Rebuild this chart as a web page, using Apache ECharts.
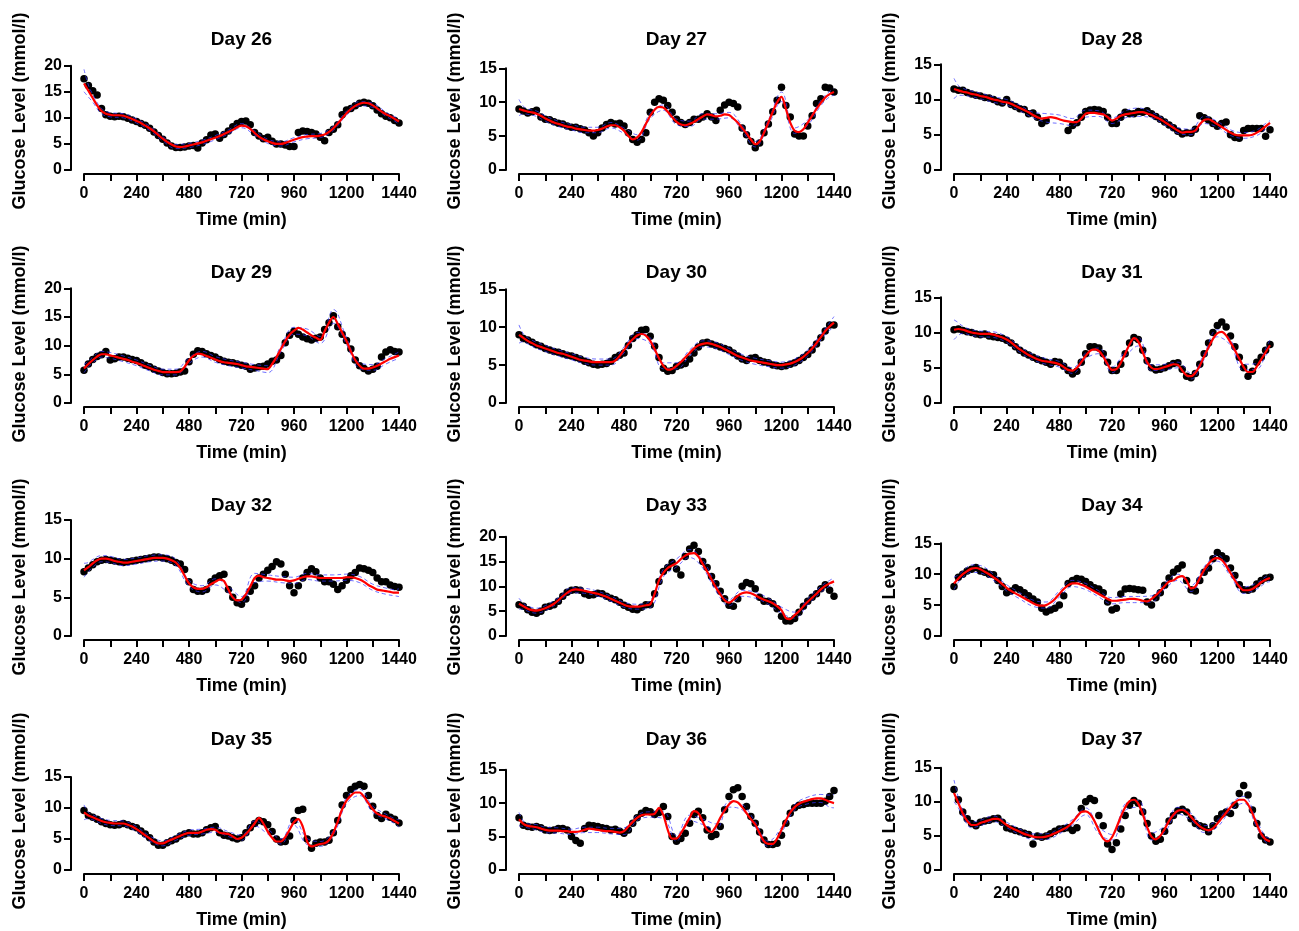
<!DOCTYPE html>
<html><head><meta charset="utf-8">
<script src="https://cdn.jsdelivr.net/npm/echarts@6/dist/echarts.min.js"></script>
<style>html,body{margin:0;padding:0;background:#fff}#c{width:1299px;height:931px}</style>
</head><body><div id="c"></div>
<script>
// ---------- data ----------
const days = ['Day 26','Day 27','Day 28','Day 29','Day 30','Day 31','Day 32','Day 33','Day 34','Day 35','Day 36','Day 37'];
const yMax = [20,15,15,20,15,15,15,20,15,15,15,15];
const stepMin = 20; // minutes between listed readings (obs and fit)
const ciTimes = [0,20,40,80,120,180,240,300,360,420,480,540,600,660,720,780,840,900,960,1020,1080,1140,1200,1260,1320,1380,1420,1440];

const obs26 = [17.5,16.2,15.2,14.4,11.8,10.6,10.3,10.2,10.3,10.2, 9.9,9.6,9.3,8.9,8.6,8.0,7.3,6.6,5.9,5.2, 4.6,4.3,4.3,4.4,4.6,4.7,4.2,5.2,5.8,6.7, 6.9,6.1,6.8,7.5,8.3,8.9,9.3,9.4,8.7,7.2, 6.5,6.0,6.3,5.5,5.0,5.0,4.8,4.5,4.5,7.2, 7.5,7.4,7.2,6.9,6.3,5.6,7.2,7.8,8.7,10.6, 11.5,11.8,12.3,12.8,13.0,12.8,12.3,11.5,10.8,10.3, 10.0,9.5,9.0];
const fit26 = [16.6,15.2,13.8,12.4,11.3,10.8,10.6,10.5,10.5,10.4, 10.1,9.8,9.4,9.0,8.5,8.0,7.4,6.7,6.0,5.4, 4.9,4.5,4.4,4.5,4.7,4.9,5.1,5.3,5.6,5.9, 6.2,6.5,6.9,7.3,7.7,8.2,8.5,8.4,7.9,7.1, 6.4,5.9,5.5,5.2,5.0,5.0,5.2,5.5,5.8,6.1, 6.3,6.4,6.5,6.5,6.6,6.8,7.3,8.0,8.9,9.9, 10.9,11.7,12.3,12.7,12.9,12.8,12.4,11.8,11.2,10.7, 10.3,9.8,9.3];
const up26 = [19.3,16.3,14.5,11.8,11.0,10.8,9.8,8.4,6.4,4.9,5.1,5.7,6.6,7.7,8.9,7.5,5.9,5.4,6.2,6.8,7.0,8.4,11.3,13.1,12.8,11.1,10.2,9.9];
const lo26 = [15.0,14.0,13.0,10.8,10.2,10.0,9.0,7.6,5.6,4.1,4.3,4.9,5.8,6.9,8.1,6.7,5.1,4.6,5.4,6.0,6.2,7.6,10.5,12.3,12.0,10.3,9.4,8.8];

const obs27 = [9.0,8.7,8.4,8.6,8.8,7.8,7.5,7.4,7.1,6.9, 6.8,6.5,6.3,6.3,6.1,5.9,5.5,5.0,5.5,6.2, 6.7,7.0,6.8,6.9,6.5,5.5,4.5,4.1,4.5,5.5, 8.5,10.0,10.5,10.3,9.5,8.5,7.5,7.0,6.7,7.0, 7.5,7.5,7.8,8.3,7.8,7.3,8.8,9.6,10.0,9.8, 9.3,6.2,5.2,4.2,3.3,4.0,5.5,6.8,8.6,10.3, 12.2,9.5,7.8,5.3,5.0,5.0,6.5,8.0,9.8,10.5, 12.2,12.1,11.5];
const fit27 = [9.0,8.8,8.6,8.5,8.3,8.0,7.6,7.3,7.0,6.8, 6.6,6.4,6.3,6.1,6.0,5.9,5.8,5.8,5.9,6.1, 6.4,6.6,6.6,6.3,5.8,5.0,4.5,4.8,5.6,6.8, 8.0,8.9,9.3,9.2,8.6,7.8,7.1,6.7,6.6,6.8, 7.1,7.5,7.9,8.2,8.1,7.9,8.0,8.2,8.1,7.6, 7.0,6.2,5.4,4.5,3.8,4.2,5.5,7.0,8.6,10.0, 10.8,9.0,7.0,5.8,5.6,6.0,7.0,8.0,9.0,9.9, 10.7,11.2,11.5];
const up27 = [10.4,9.4,9.0,8.7,8.0,7.2,6.7,6.3,6.3,7.0,6.2,5.2,8.4,9.6,7.5,7.2,8.3,8.3,8.5,6.6,4.2,7.4,11.5,6.2,7.4,10.3,11.6,12.0];
const lo27 = [8.0,8.3,8.2,7.9,7.2,6.4,5.9,5.5,5.5,6.2,5.4,4.4,7.6,8.8,6.7,6.4,7.5,7.5,7.7,5.8,3.4,6.6,10.1,5.4,6.6,9.5,10.8,11.0];

const obs28 = [11.5,11.3,11.3,11.0,10.8,10.6,10.5,10.3,10.2,10.0, 9.7,9.5,10.0,9.3,9.0,8.7,8.6,8.0,8.1,7.5, 6.6,7.0,null,null,null,null,5.6,6.3,6.7,7.5, 8.3,8.5,8.6,8.5,8.3,7.5,6.6,6.6,7.5,8.2, 8.0,8.0,8.3,8.2,8.4,8.0,7.6,7.2,6.8,6.4, 6.0,5.5,5.1,5.3,5.2,5.8,7.7,7.4,7.1,6.6, 6.2,6.6,6.8,5.0,4.6,4.5,5.6,5.9,5.9,5.9, 5.9,4.8,5.7];
const fit28 = [11.5,11.3,11.1,11.0,10.8,10.7,10.5,10.4,10.2,10.0, 9.9,9.7,9.6,9.4,9.1,8.8,8.5,8.2,7.8,7.5, 7.3,7.4,7.5,7.4,7.2,7.0,6.9,6.8,6.8,7.3, 8.0,8.1,8.1,8.0,7.9,7.5,7.0,7.3,7.7,7.9, 8.0,8.1,8.2,8.2,8.0,7.8,7.5,7.2,6.8,6.4, 6.0,5.6,5.3,5.4,5.4,5.6,6.5,7.1,7.2,6.9, 6.5,6.1,5.7,5.3,5.0,4.9,4.9,4.9,5.0,5.3, 5.7,6.2,6.7];
const up28 = [13.0,12.0,11.6,11.2,10.9,10.4,10.0,9.2,8.2,8.0,7.8,7.3,8.5,8.4,7.4,8.4,8.8,8.2,7.2,6.0,5.8,7.6,6.9,5.7,5.3,5.7,6.6,7.0];
const lo28 = [10.1,10.6,10.6,10.4,10.1,9.6,9.2,8.4,7.4,6.8,6.6,6.3,7.5,7.6,6.6,7.4,7.6,7.4,6.4,5.2,5.0,6.6,6.1,4.9,4.5,4.9,5.8,6.3];

const obs29 = [5.7,6.8,7.6,8.1,8.4,9.0,7.5,7.7,8.0,8.0, 7.8,7.6,7.4,7.0,6.6,6.3,5.9,5.6,5.3,5.1, 5.1,5.2,5.4,5.6,7.2,8.5,9.1,9.0,8.6,8.3, 8.0,7.6,7.3,7.1,7.0,6.8,6.6,6.4,5.9,6.1, 6.3,6.4,6.8,7.3,7.5,8.3,10.5,11.8,12.5,12.0, 11.5,11.2,11.0,11.3,11.5,12.8,14.0,15.2,13.3,12.0, 10.9,9.4,7.5,6.5,6.0,5.6,5.9,6.4,8.0,8.9, 9.3,9.0,8.9];
const fit29 = [6.0,6.8,7.5,8.1,8.5,8.5,8.3,8.1,7.9,7.7, 7.5,7.2,7.0,6.7,6.4,6.1,5.8,5.6,5.4,5.4, 5.4,5.4,5.5,6.3,7.4,8.2,8.6,8.5,8.2,7.9, 7.6,7.3,7.1,7.0,6.9,6.8,6.6,6.4,6.3,6.2, 6.1,6.0,5.9,6.8,8.0,9.4,10.8,11.9,12.6,13.1, 12.8,12.3,11.8,11.4,11.0,12.5,14.0,15.0,13.8,12.3, 10.8,9.0,7.5,6.5,6.0,6.0,6.2,6.5,6.9,7.3, 7.7,8.0,8.3];
const up29 = [6.7,7.3,8.0,9.0,8.8,8.2,7.5,6.6,5.9,5.9,7.9,9.0,8.1,7.5,7.1,6.7,6.5,9.9,13.2,12.9,11.6,16.3,11.4,7.0,6.7,7.8,8.5,8.9];
const lo29 = [5.3,6.3,7.0,8.0,7.8,7.2,6.5,5.6,4.9,4.9,6.9,8.0,7.1,6.5,6.1,5.7,5.3,8.9,12.0,11.7,10.4,13.9,10.2,6.0,5.7,6.8,7.5,7.7];

const obs30 = [9.0,8.5,8.3,8.0,7.7,7.5,7.2,7.0,6.8,6.7, 6.5,6.3,6.2,6.0,5.8,5.5,5.3,5.1,5.0,5.1, 5.2,5.5,6.0,6.3,6.6,7.6,8.5,9.0,9.6,9.7, 8.8,7.5,6.0,4.6,4.2,4.3,4.8,5.0,5.2,5.8, 6.6,7.4,7.9,8.0,7.8,7.6,7.4,7.2,7.0,6.6, 6.2,5.8,5.6,5.9,6.0,5.6,5.4,5.3,5.0,4.9, 4.8,4.9,5.1,5.3,5.6,6.0,6.4,7.0,7.8,8.6, 9.5,10.3,10.3];
const fit30 = [9.0,8.6,8.2,7.9,7.6,7.4,7.2,7.0,6.8,6.6, 6.5,6.3,6.1,5.9,5.7,5.6,5.5,5.4,5.4,5.4, 5.4,5.4,5.6,6.2,7.0,7.8,8.4,8.9,9.1,8.9, 8.2,7.1,5.9,4.9,4.4,4.5,4.9,5.4,6.0,6.6, 7.2,7.6,7.8,7.9,7.8,7.6,7.4,7.1,6.8,6.5, 6.2,6.0,5.8,5.6,5.5,5.4,5.3,5.2,5.1,5.0, 5.0,5.1,5.2,5.4,5.7,6.1,6.6,7.2,7.9,8.7, 9.5,10.1,10.6];
const up30 = [10.3,9.1,8.6,8.0,7.6,7.0,6.5,6.0,5.8,5.8,7.4,9.3,8.6,5.3,5.3,7.0,8.2,8.0,7.2,6.4,5.9,5.6,5.4,5.8,7.0,9.1,10.6,11.4];
const lo30 = [7.9,8.1,7.8,7.2,6.8,6.2,5.7,5.2,5.0,5.0,6.6,8.5,7.8,4.5,4.5,6.2,7.4,7.2,6.4,5.6,5.1,4.8,4.6,5.0,6.2,8.3,9.6,9.9];

const obs31 = [10.4,10.5,10.3,10.1,10.0,9.8,9.7,9.8,9.5,9.4, 9.3,9.2,8.9,8.5,8.0,7.5,7.1,6.8,6.5,6.2, 6.0,5.8,5.5,5.9,5.8,5.2,4.6,4.1,4.5,5.8, 7.0,8.0,8.0,7.8,7.0,5.8,4.6,4.6,5.5,7.0, 8.5,9.3,9.0,7.5,6.0,5.0,4.7,4.8,5.0,5.3, 5.6,5.7,4.8,3.8,3.6,4.2,5.5,7.0,8.5,10.0, 11.0,11.5,10.8,9.5,8.0,6.5,5.0,3.8,4.5,5.8, 6.5,7.5,8.3];
const fit31 = [10.4,10.5,10.4,10.2,10.0,9.9,9.8,9.8,9.8,9.7, 9.5,9.3,9.0,8.6,8.1,7.6,7.2,6.8,6.5,6.2, 6.0,5.9,5.8,5.7,5.5,5.1,4.7,4.6,5.0,5.8, 6.7,7.4,7.6,7.4,6.6,5.5,4.7,4.8,5.7,7.0, 8.3,9.2,8.7,7.2,5.8,5.0,4.8,4.9,5.1,5.3, 5.5,5.4,4.6,3.9,3.8,4.3,5.3,6.6,7.9,9.1, 9.9,10.1,9.6,8.6,7.5,6.3,5.1,4.4,4.4,5.2, 6.2,7.2,8.2];
const up31 = [11.8,11.4,10.9,10.4,10.2,10.1,9.4,8.0,6.9,6.3,5.9,5.0,7.1,7.8,5.1,7.4,9.3,5.4,5.5,5.8,4.2,7.0,10.4,9.0,5.5,5.6,7.7,9.0];
const lo31 = [9.0,9.6,9.9,9.6,9.4,9.3,8.6,7.2,6.1,5.5,5.1,4.2,6.3,7.0,4.3,6.6,8.1,4.6,4.7,5.0,3.4,6.2,9.4,8.2,4.7,4.8,6.7,7.4];

const obs32 = [8.3,8.8,9.2,9.6,9.8,9.9,9.8,9.7,9.6,9.5, 9.6,9.7,9.8,9.9,10.0,10.1,10.2,10.2,10.1,10.0, 9.8,9.5,9.3,8.6,7.0,6.0,5.8,5.8,6.0,7.0, 7.5,7.8,8.0,6.0,5.0,4.3,4.1,4.8,5.8,6.5, 7.5,8.0,8.5,9.0,9.6,9.3,8.0,6.5,5.6,6.5, 7.5,8.2,8.7,8.3,7.5,7.0,7.0,6.7,6.0,6.5, 7.2,7.8,8.2,8.8,8.7,8.5,8.2,7.5,7.0,7.0, 6.6,6.4,6.3];
const fit32 = [8.5,8.9,9.4,9.8,10.0,10.0,9.9,9.7,9.6,9.5, 9.5,9.6,9.7,9.8,9.9,10.0,10.1,10.1,10.1,10.0, 9.8,9.5,8.8,7.8,6.8,6.3,6.1,6.1,6.3,6.7, 7.0,7.3,7.1,6.0,5.0,4.6,4.7,5.4,6.4,7.5, 7.8,7.6,7.5,7.4,7.3,7.3,7.2,7.1,7.2,7.4, 7.6,7.7,7.7,7.6,7.5,7.5,7.5,7.5,7.5,7.5, 7.6,7.6,7.5,7.3,7.0,6.6,6.3,6.0,5.9,5.8, 5.7,5.6,5.6];
const up32 = [9.4,9.5,9.9,10.4,10.3,9.9,10.1,10.4,10.5,9.9,7.2,6.5,7.4,6.4,5.1,8.1,7.9,7.7,7.6,8.1,7.9,7.9,8.0,7.7,6.7,6.2,6.0,6.1];
const lo32 = [7.6,8.3,8.9,9.6,9.5,9.1,9.3,9.6,9.7,9.1,6.4,5.7,6.6,5.6,4.3,6.9,7.1,6.9,6.8,7.3,7.1,7.1,7.2,6.9,5.9,5.4,5.2,5.1];

const obs33 = [6.3,6.0,5.3,4.8,4.6,5.0,5.8,6.0,6.3,7.0, 8.0,8.8,9.2,9.3,9.2,8.5,8.2,8.3,8.6,8.5, 8.0,7.6,7.3,6.8,6.2,5.8,5.4,5.3,5.8,6.3, 6.3,8.5,11.0,13.0,13.8,14.8,13.5,12.3,16.0,17.5, 18.3,17.0,15.0,13.8,12.0,10.5,9.0,7.5,6.2,6.0, 7.5,10.0,10.8,10.5,9.5,7.8,7.0,7.0,6.5,5.5, 4.0,3.0,3.0,3.5,4.8,6.0,7.0,7.8,8.5,9.5, 10.3,9.2,8.0];
const fit33 = [6.5,6.0,5.5,5.2,5.1,5.3,5.6,6.0,6.5,7.2, 8.0,8.7,9.2,9.4,9.3,9.1,8.9,8.7,8.5,8.2, 7.9,7.5,7.1,6.7,6.3,6.0,5.9,5.9,6.0,6.2, 6.4,8.5,11.2,12.7,13.7,14.2,14.7,15.5,16.2,16.6, 16.7,16.0,14.5,13.0,11.4,9.8,8.4,7.2,6.7,7.3, 8.1,8.6,8.8,8.6,8.2,7.7,7.3,7.0,6.6,6.0, 5.2,3.6,3.4,4.2,5.0,6.0,6.9,7.7,8.5,9.4, 10.1,10.6,11.0];
const up33 = [7.6,6.6,6.0,5.6,6.1,7.7,9.7,9.6,9.0,8.0,6.8,6.4,7.1,13.5,15.5,17.4,15.3,10.5,7.3,9.2,8.8,7.6,5.8,4.8,7.5,10.0,11.2,11.7];
const lo33 = [5.4,5.4,5.0,4.6,5.1,6.7,8.7,8.6,8.0,7.0,5.8,5.4,5.7,11.9,13.9,15.8,13.7,9.1,6.1,8.0,7.6,6.4,4.6,3.6,6.3,8.8,10.0,10.3];

const obs34 = [8.0,9.5,10.0,10.5,10.8,11.1,10.5,10.3,10.0,9.9, 9.0,8.0,7.0,7.3,7.8,7.5,7.0,6.5,6.0,5.5, 4.5,3.9,4.2,4.5,5.0,6.5,8.5,9.0,9.3,9.2, 8.8,8.3,7.8,7.6,7.0,5.5,4.2,4.5,6.8,7.6, 7.7,7.6,7.5,7.4,5.5,5.0,6.2,7.0,8.2,9.4, 10.3,10.9,11.5,9.0,7.5,7.3,9.0,10.3,11.0,12.5, 13.5,13.0,12.5,11.0,9.8,8.3,7.5,7.4,7.6,8.4, 9.0,9.4,9.5];
const fit34 = [8.5,9.3,10.0,10.5,10.9,11.0,10.8,10.4,10.0,9.5, 9.0,8.4,7.8,7.3,6.9,6.5,6.1,5.7,5.3,5.0, 4.9,5.0,5.4,6.0,6.8,7.6,8.2,8.5,8.5,8.3, 8.0,7.6,7.2,6.8,6.4,6.0,5.7,5.7,5.8,5.9, 6.0,6.0,5.9,5.7,5.6,6.0,6.6,7.3,8.1,8.8, 9.0,9.5,9.7,9.0,7.7,8.0,9.4,10.7,11.7,12.4, 12.6,12.3,11.4,10.2,9.0,8.0,7.4,7.4,7.6,8.1, 8.7,9.1,9.4];
const up34 = [9.5,9.9,10.5,11.5,11.4,10.0,8.3,7.0,5.8,5.5,7.3,9.0,8.5,7.3,6.2,6.4,6.4,6.5,8.6,10.0,8.2,11.2,13.1,10.7,7.9,8.6,9.6,10.0];
const lo34 = [7.5,8.7,9.5,10.3,10.2,9.0,7.3,6.0,4.8,4.5,6.3,8.0,7.5,6.3,5.2,5.4,5.4,5.5,7.6,9.0,7.2,10.2,12.1,9.7,6.9,7.6,8.6,8.8];

const obs35 = [9.6,8.8,8.5,8.2,7.8,7.5,7.3,7.2,7.3,7.5, 7.3,7.0,6.8,6.3,5.8,5.2,4.5,4.0,4.0,4.4, 4.7,5.0,5.5,5.8,6.0,5.8,5.8,6.0,6.5,6.8, 7.0,6.0,5.6,5.5,5.2,5.0,5.2,6.0,6.8,7.5, 8.0,7.8,7.3,6.2,5.0,4.5,4.6,5.5,8.0,9.6, 9.8,5.0,3.5,4.3,4.5,4.5,4.8,6.0,8.0,10.5, 12.0,13.0,13.5,13.8,13.5,12.0,10.3,8.8,8.3,9.0, 8.5,8.2,7.6];
const fit35 = [9.3,8.8,8.5,8.2,7.9,7.7,7.6,7.5,7.5,7.5, 7.3,7.0,6.6,6.1,5.6,5.1,4.6,4.3,4.3,4.6, 4.9,5.2,5.5,5.8,6.0,6.0,6.0,6.2,6.5,6.6, 6.5,6.0,5.9,5.8,5.4,5.0,5.2,5.8,6.6,7.5, 8.4,7.5,6.2,5.2,4.6,4.6,5.3,6.5,7.7,8.2, 7.0,4.6,3.8,4.0,4.2,4.3,4.8,6.0,7.8,9.8, 11.2,12.0,12.5,12.5,11.8,10.8,9.8,9.1,8.8,8.6, 8.3,7.9,7.5];
const up35 = [10.5,9.3,8.9,8.3,8.0,7.9,7.0,5.5,4.7,5.6,6.4,6.6,6.9,6.2,5.6,7.9,6.6,5.0,8.2,5.1,4.6,6.4,11.7,13.0,10.3,9.0,8.3,8.1];
const lo35 = [8.1,8.3,8.1,7.5,7.2,7.1,6.2,4.7,3.9,4.8,5.6,5.8,6.1,5.4,4.8,7.1,5.8,4.2,7.2,4.1,3.8,5.6,10.7,12.0,9.3,8.2,7.5,6.9];

const obs36 = [7.8,6.7,6.5,6.4,6.5,6.3,6.0,5.9,6.0,6.2, 6.2,6.0,5.0,4.4,4.0,6.2,6.7,6.6,6.5,6.3, 6.2,6.0,6.1,5.8,5.5,6.0,7.0,7.8,8.5,8.9, 8.7,8.3,8.6,9.5,8.0,5.0,4.3,4.7,5.5,7.0, 8.3,8.8,7.8,6.0,5.0,5.3,6.5,9.0,11.0,12.0, 12.3,11.0,9.5,8.0,7.0,5.7,4.5,3.8,3.8,4.0, 5.2,7.0,8.5,9.3,9.7,9.8,10.0,10.0,10.0,10.0, 10.3,11.0,11.9];
const fit36 = [7.6,6.9,6.6,6.5,6.4,6.2,6.0,5.9,5.9,5.9, 5.8,5.8,5.7,5.7,5.8,6.0,6.2,6.1,6.0,5.9, 5.8,5.8,5.7,5.6,5.8,6.5,7.2,7.8,8.2,8.3, 8.3,8.4,9.3,8.2,6.0,4.7,4.7,5.5,6.6,7.8, 8.8,8.5,7.2,6.0,5.7,6.5,7.8,8.9,9.8,10.3, 10.1,9.4,8.5,7.6,6.8,5.5,4.3,3.9,3.9,4.7, 6.0,7.4,8.6,9.4,9.9,10.2,10.4,10.6,10.7,10.7, 10.5,10.2,10.0];
const up36 = [8.6,7.3,6.9,6.8,6.4,6.3,6.1,6.4,6.4,6.2,6.3,8.2,8.7,8.7,5.1,8.2,7.6,6.9,10.2,9.8,7.2,4.3,6.4,9.8,10.9,11.3,11.2,11.3];
const lo36 = [6.6,6.5,6.3,6.0,5.6,5.5,5.3,5.6,5.6,5.4,5.3,7.4,7.9,7.7,4.3,7.4,6.8,6.1,9.4,9.0,6.4,3.5,5.6,9.0,9.9,10.1,9.4,9.3];

const obs37 = [11.8,10.3,8.5,7.5,6.8,6.5,7.0,7.2,7.3,7.5, 7.6,7.0,6.2,6.0,5.8,5.6,5.4,5.2,3.8,5.0, 4.8,5.0,5.3,5.7,6.0,6.1,6.2,5.8,6.2,9.0, 10.0,10.5,10.2,8.0,6.5,3.8,3.0,4.0,6.0,8.0, 9.5,10.2,9.8,8.5,6.8,5.0,4.2,4.5,5.7,7.2, 8.0,8.7,8.9,8.5,7.5,6.8,6.5,6.3,5.6,6.5, 7.5,8.2,8.5,8.3,9.5,11.2,12.4,11.0,8.8,6.8, 5.0,4.4,4.1];
const fit37 = [11.3,9.8,8.3,7.2,6.6,6.6,6.9,7.1,7.3,7.5, 7.5,7.1,6.6,6.2,5.9,5.6,5.3,5.1,4.9,4.8, 4.8,4.9,5.1,5.4,5.7,6.0,6.4,7.0,7.8,8.5, 8.6,8.2,7.2,5.8,4.6,4.2,4.8,6.2,7.8,9.2, 10.1,10.3,9.7,8.2,6.3,4.9,4.5,5.0,6.0,7.2, 8.1,8.7,8.8,8.5,7.8,7.0,6.4,6.0,5.8,6.1, 6.8,7.6,8.4,9.2,9.9,10.3,10.3,9.6,8.3,6.7, 5.3,4.5,4.2];
const up37 = [13.2,10.6,8.8,7.0,7.3,7.9,7.0,6.0,5.3,5.3,6.1,7.4,9.1,6.3,5.2,9.7,10.2,5.4,6.5,9.2,8.3,6.5,7.3,9.7,10.8,7.2,4.9,4.7];
const lo37 = [10.0,9.1,7.8,6.2,6.5,7.1,6.2,5.2,4.5,4.5,5.3,6.6,8.1,5.3,4.4,8.7,9.2,4.4,5.5,8.2,7.3,5.5,6.3,8.7,9.8,6.2,4.1,3.8];

const obsAll = [obs26,obs27,obs28,obs29,obs30,obs31,obs32,obs33,obs34,obs35,obs36,obs37];
const fitAll = [fit26,fit27,fit28,fit29,fit30,fit31,fit32,fit33,fit34,fit35,fit36,fit37];
const upAll  = [up26,up27,up28,up29,up30,up31,up32,up33,up34,up35,up36,up37];
const loAll  = [lo26,lo27,lo28,lo29,lo30,lo31,lo32,lo33,lo34,lo35,lo36,lo37];

// ---------- layout (pixels) ----------
const colX0 = [84, 519, 954];
const colX1 = [399, 834, 1270];
const rowZero = [170, 403, 636, 870];
const panelTop = [65.7,68.3,64.3, 288.3,289.3,297.3, 520,536.7,543.3, 777,769.7,767.7];
const FONT = '"Liberation Sans", Arial, Helvetica, sans-serif';

const grids = [], xAxes = [], yAxes = [], series = [], graphics = [];
days.forEach((name, i) => {
  const c = i % 3, r = Math.floor(i / 3);
  const x0 = colX0[c], x1 = colX1[c], z0 = rowZero[r], top = panelTop[i];
  grids.push({left: x0, top: top, width: x1 - x0, height: z0 - top, containLabel: false});
  const axisStyle = {show: true, onZero: false, lineStyle: {color: '#000', width: 2}};
  const tickStyle = {show: true, inside: false, length: 7, lineStyle: {color: '#000', width: 2}};
  xAxes.push({
    type: 'value', gridIndex: i, min: 0, max: 1440, interval: 120, offset: 4,
    axisLine: axisStyle, axisTick: tickStyle, splitLine: {show: false},
    axisLabel: {color: '#000', fontFamily: FONT, fontWeight: 'bold', fontSize: 16, margin: 12,
      hideOverlap: false, showMinLabel: true, showMaxLabel: true,
      formatter: v => (v % 240 === 0 ? String(v) : '')}
  });
  yAxes.push({
    type: 'value', gridIndex: i, min: 0, max: yMax[i], interval: 5, offset: 13,
    axisLine: axisStyle, axisTick: tickStyle, splitLine: {show: false},
    axisLabel: {color: '#000', fontFamily: FONT, fontWeight: 'bold', fontSize: 16, margin: 9,
      showMinLabel: true, showMaxLabel: true}
  });
  const pts = obsAll[i].map((v, k) => [k * stepMin, v]).filter(p => p[1] != null);
  series.push({type: 'scatter', xAxisIndex: i, yAxisIndex: i, data: pts, symbol: 'circle',
    symbolSize: 7.5, itemStyle: {color: '#000', opacity: 1}, clip: false, silent: true, z: 2});
  [upAll[i], loAll[i]].forEach(arr => {
    series.push({type: 'line', xAxisIndex: i, yAxisIndex: i, data: arr.map((v, k) => [ciTimes[k], v]),
      showSymbol: false, smooth: 0.4, clip: false, silent: true, z: 3,
      lineStyle: {color: '#3333ff', width: 1, type: [4, 3], opacity: 0.7}});
  });
  series.push({type: 'line', xAxisIndex: i, yAxisIndex: i, data: fitAll[i].map((v, k) => [k * stepMin, v]),
    showSymbol: false, smooth: 0.3, clip: false, silent: true, z: 4,
    lineStyle: {color: '#ff0000', width: 2.2}});

  const cx = (x0 + x1) / 2;
  graphics.push({type: 'text', x: cx, y: z0 - 130, style: {text: name, fill: '#000',
    font: 'bold 19px ' + FONT, align: 'center', verticalAlign: 'middle'}});
  graphics.push({type: 'text', x: cx, y: z0 + 50, style: {text: 'Time (min)', fill: '#000',
    font: 'bold 18px ' + FONT, align: 'center', verticalAlign: 'middle'}});
  graphics.push({type: 'text', x: x0 - 64, y: z0 - 59, rotation: Math.PI / 2, style: {text: 'Glucose Level (mmol/l)',
    fill: '#000', font: 'bold 18px ' + FONT, align: 'center', verticalAlign: 'middle'}});
});

const chart = echarts.init(document.getElementById('c'), null, {renderer: 'canvas'});
chart.setOption({
  animation: false,
  backgroundColor: '#fff',
  grid: grids, xAxis: xAxes, yAxis: yAxes, series: series,
  graphic: graphics
});
</script>
</body></html>
